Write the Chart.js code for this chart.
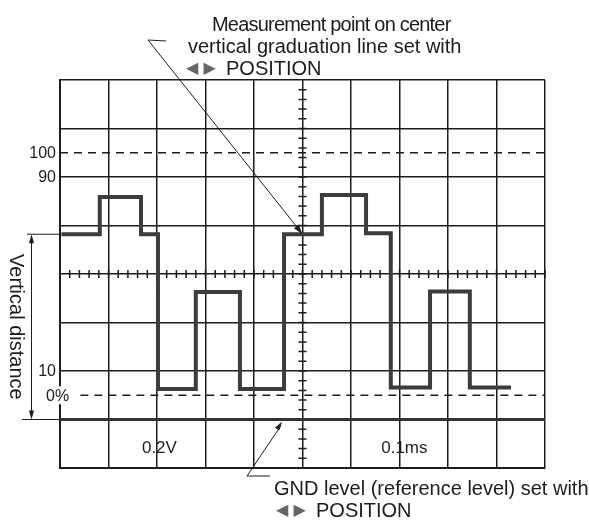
<!DOCTYPE html>
<html>
<head>
<meta charset="utf-8">
<script src="https://cdn.jsdelivr.net/npm/chart.js@4.4.1/dist/chart.umd.min.js"></script>
<style>
  html, body { margin: 0; padding: 0; background: #fff; }
  #wrap { width: 589px; height: 522px; }
</style>
</head>
<body>
<div id="wrap"><canvas id="scope" width="589" height="522"></canvas></div>
<script>
// screen is 10 x 8 divisions, all values are in divisions
const edgeTimes = [0.03, 0.82, 1.67, 2.02, 2.80, 3.71, 4.62, 5.40, 6.31, 6.82, 7.63, 8.45, 9.30];
const levels    = [4.82, 5.59, 4.82, 1.63, 3.63, 1.63, 4.82, 5.63, 4.84, 1.66, 3.64, 1.66, 1.66];

const pctLabels = ["100", "90", "10", "0%"];
const pctLevels = [6.5, 6, 2, 1.5];

const gndLevel = 1;
const settingLabels = ["0.2V", "0.1ms"];
const settingPos = [2.05, 7.1];

const INK = "#1c1c1c";
const FONT = "'Liberation Sans', Arial, sans-serif";

function hline(y, x0, x1) {
  return [{ x: x0, y: y }, { x: x1, y: y }];
}

function arrowHead(ctx, x0, y0, x1, y1, len, half) {
  const a = Math.atan2(y1 - y0, x1 - x0);
  ctx.beginPath();
  ctx.moveTo(x1, y1);
  ctx.lineTo(x1 - len * Math.cos(a) + half * Math.sin(a), y1 - len * Math.sin(a) - half * Math.cos(a));
  ctx.lineTo(x1 - len * Math.cos(a) - half * Math.sin(a), y1 - len * Math.sin(a) + half * Math.cos(a));
  ctx.closePath();
  ctx.fill();
}

// "<| |> POSITION" line, the two arrow glyphs are grey in the original
function positionLine(ctx, x, y) {
  ctx.save();
  ctx.fillStyle = "#666";
  ctx.font = "16px 'DejaVu Sans', sans-serif";
  ctx.fillText("\u25C0 \u25B6", x, y);
  ctx.restore();
  ctx.fillText("POSITION", x + 40, y);
}

const scopeMarks = {
  id: "scopeMarks",
  beforeDatasetsDraw(chart) {
    const { ctx, scales: { x, y } } = chart;
    ctx.save();
    ctx.strokeStyle = INK;
    ctx.lineWidth = 1.5;
    const cx = x.getPixelForValue(5), cy = y.getPixelForValue(4);
    ctx.beginPath();
    for (let v = 0.2; v < 8; v += 0.2) {
      const py = y.getPixelForValue(v);
      ctx.moveTo(cx - 4, py); ctx.lineTo(cx + 4, py);
    }
    for (let v = 0.2; v < 10; v += 0.2) {
      const px = x.getPixelForValue(v);
      ctx.moveTo(px, cy - 4); ctx.lineTo(px, cy + 4);
    }
    ctx.stroke();
    ctx.restore();
  },
  afterDraw(chart) {
    const { ctx, scales: { x, y } } = chart;
    ctx.save();
    ctx.fillStyle = INK;
    ctx.strokeStyle = INK;

    // percent labels on the left
    ctx.font = "16px " + FONT;
    ctx.textBaseline = "middle";
    pctLabels.forEach((t, i) => {
      const py = y.getPixelForValue(pctLevels[i]);
      if (t === "0%") {
        ctx.fillStyle = "#fff";
        ctx.fillRect(44, py - 9, 34, 18);
        ctx.fillStyle = INK;
        ctx.textAlign = "left";
        ctx.fillText(t, 46, py + 1);
      } else {
        ctx.textAlign = "right";
        ctx.fillText(t, 56, py + 1);
      }
    });

    // V/div and time/div readouts
    ctx.font = "17px " + FONT;
    ctx.textAlign = "center";
    settingLabels.forEach((t, i) => {
      ctx.fillText(t, x.getPixelForValue(settingPos[i]), y.getPixelForValue(0.4));
    });

    // vertical distance dimension
    const yTop = y.getPixelForValue(levels[0]);
    const yGnd = y.getPixelForValue(gndLevel);
    const left = x.getPixelForValue(0);
    ctx.lineWidth = 1;
    ctx.beginPath();
    ctx.moveTo(27, yTop); ctx.lineTo(left, yTop);
    ctx.moveTo(22, yGnd); ctx.lineTo(left, yGnd);
    ctx.moveTo(31.5, yTop + 6); ctx.lineTo(31.5, yGnd - 6);
    ctx.stroke();
    arrowHead(ctx, 31.5, yGnd, 31.5, yTop, 9, 2.5);
    arrowHead(ctx, 31.5, yTop, 31.5, yGnd, 9, 2.5);

    ctx.save();
    ctx.translate(16, (yTop + yGnd) / 2);
    ctx.rotate(Math.PI / 2);
    ctx.font = "20px " + FONT;
    ctx.textAlign = "center";
    ctx.textBaseline = "middle";
    ctx.fillText("Vertical distance", 0, 0);
    ctx.restore();

    // leader to measurement point
    const mx = x.getPixelForValue(5), my = y.getPixelForValue(levels[6]);
    ctx.lineWidth = 1;
    ctx.beginPath();
    ctx.moveTo(166, 41); ctx.lineTo(148, 40); ctx.lineTo(mx - 3, my - 4);
    ctx.stroke();
    arrowHead(ctx, 148, 40, mx, my, 10, 3);

    // leader to GND level
    const gx = 282, gy = yGnd + 2;
    ctx.beginPath();
    ctx.moveTo(gx - 1, gy + 4); ctx.lineTo(247, 476); ctx.lineTo(270, 476);
    ctx.stroke();
    arrowHead(ctx, 247, 476, gx, gy, 9, 2.5);

    // annotation text
    ctx.font = "20px " + FONT;
    ctx.textAlign = "left";
    ctx.textBaseline = "middle";
    ctx.letterSpacing = "-0.8px";
    ctx.fillText("Measurement point on center", 212, 25);
    ctx.letterSpacing = "0px";
    ctx.fillText("vertical graduation line set with", 188, 47);
    positionLine(ctx, 186, 69);
    ctx.fillText("GND level (reference level) set with", 274, 489);
    positionLine(ctx, 276, 511);
    ctx.restore();
  }
};

new Chart(document.getElementById("scope"), {
  type: "scatter",
  data: {
    datasets: [
      {
        label: "GND",
        data: hline(gndLevel, 0, 10),
        showLine: true,
        borderColor: "#333",
        borderWidth: 3,
        pointRadius: 0,
      },
      {
        label: "100%",
        data: hline(pctLevels[0], 0, 10),
        showLine: true,
        borderColor: INK,
        borderWidth: 1.5,
        borderDash: [8, 6],
        pointRadius: 0,
      },
      {
        label: "0%",
        data: hline(pctLevels[3], 0.42, 10),
        showLine: true,
        borderColor: INK,
        borderWidth: 1.5,
        borderDash: [8, 6],
        pointRadius: 0,
      },
      {
        label: "signal",
        data: edgeTimes.map((t, i) => ({ x: t, y: levels[i] })),
        showLine: true,
        stepped: "before",
        borderColor: "#3c3c3c",
        borderWidth: 4,
        borderJoinStyle: "miter",
        pointRadius: 0,
      },
    ],
  },
  options: {
    responsive: false,
    animation: false,
    events: [],
    layout: { padding: { left: 60, top: 80, right: 44, bottom: 54 } },
    plugins: { legend: { display: false }, tooltip: { enabled: false } },
    scales: {
      x: {
        type: "linear",
        min: 0,
        max: 10,
        ticks: { display: false, stepSize: 1 },
        grid: { color: INK, lineWidth: 1.5, drawTicks: false },
        border: { color: INK, width: 2 },
      },
      y: {
        min: 0,
        max: 8,
        ticks: { display: false, stepSize: 1 },
        grid: { color: INK, lineWidth: 1.5, drawTicks: false },
        border: { color: INK, width: 2 },
      },
    },
  },
  plugins: [scopeMarks],
});
</script>
</body>
</html>
